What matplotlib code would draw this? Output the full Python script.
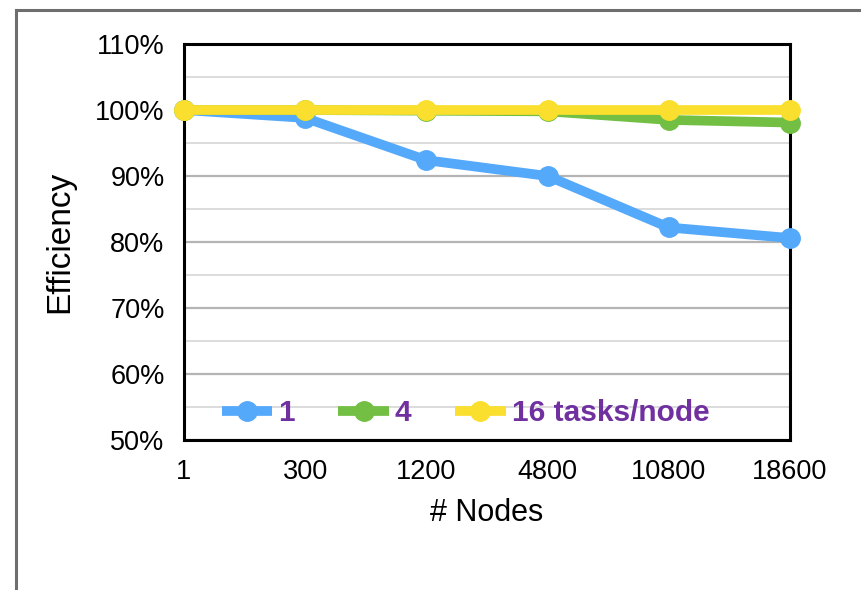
import matplotlib.pyplot as plt
from matplotlib.lines import Line2D
from matplotlib.ticker import MultipleLocator, FuncFormatter

plt.rcParams['font.family'] = ['Liberation Sans', 'DejaVu Sans']

nodes = ['1', '300', '1200', '4800', '10800', '18600']
eff_1 = [100.0, 98.8, 92.4, 90.0, 82.2, 80.6]
eff_4 = [100.0, 100.0, 99.9, 99.8, 98.5, 98.1]
eff_16 = [100.0, 100.0, 100.0, 100.0, 100.0, 100.0]

series = [
    ('1', eff_1, '#55A9FA'),
    ('4', eff_4, '#72BF44'),
    ('16 tasks/node', eff_16, '#FBDF2E'),
]

fig = plt.figure(figsize=(8.61, 5.9), dpi=100, facecolor='white')
ax = fig.add_axes([0.2137, 0.2542, 0.7038, 0.6712])

x = range(len(nodes))
for name, vals, col in series:
    ax.plot(x, vals, color=col, lw=7, marker='o', ms=14, label=name,
            solid_capstyle='butt', clip_on=False, zorder=3)

ax.set_xlim(0, len(nodes) - 1)
ax.set_ylim(50, 110)
ax.set_xticks(list(x))
ax.set_xticklabels(nodes)
ax.yaxis.set_major_locator(MultipleLocator(10))
ax.yaxis.set_minor_locator(MultipleLocator(5))
ax.yaxis.set_major_formatter(FuncFormatter(lambda v, p: f'{v:.0f}%'))

ax.grid(axis='y', which='major', color='#B4B4B4', lw=1.6)
ax.grid(axis='y', which='minor', color='#D6D6D6', lw=1.2)
ax.set_axisbelow(True)

ax.tick_params(axis='both', which='both', length=0, labelsize=19.5, pad=14)
for s in ax.spines.values():
    s.set_linewidth(2.2)
    s.set_color('black')

ax.set_xlabel('# Nodes', fontsize=22, labelpad=9)
ax.set_ylabel('Efficiency', fontsize=24, labelpad=14)

leg = ax.legend(loc='center left', bbox_to_anchor=(0.062, 0.068), ncol=3,
                frameon=False, fontsize=21.5, handlelength=1.7,
                handletextpad=0.2, columnspacing=1.45,
                borderaxespad=0, borderpad=0)
for t in leg.get_texts():
    t.set_color('#7030A0')
    t.set_fontweight('bold')

# gray frame around the figure (top and left edges)
fig.add_artist(Line2D([0.0186, 1.0], [0.983, 0.983], color='#6E6E6E', lw=2.2,
                      transform=fig.transFigure))
fig.add_artist(Line2D([0.0186, 0.0186], [0.0, 0.983], color='#6E6E6E', lw=2.2,
                      transform=fig.transFigure))

fig.savefig('out.png', dpi=100, facecolor='white')
